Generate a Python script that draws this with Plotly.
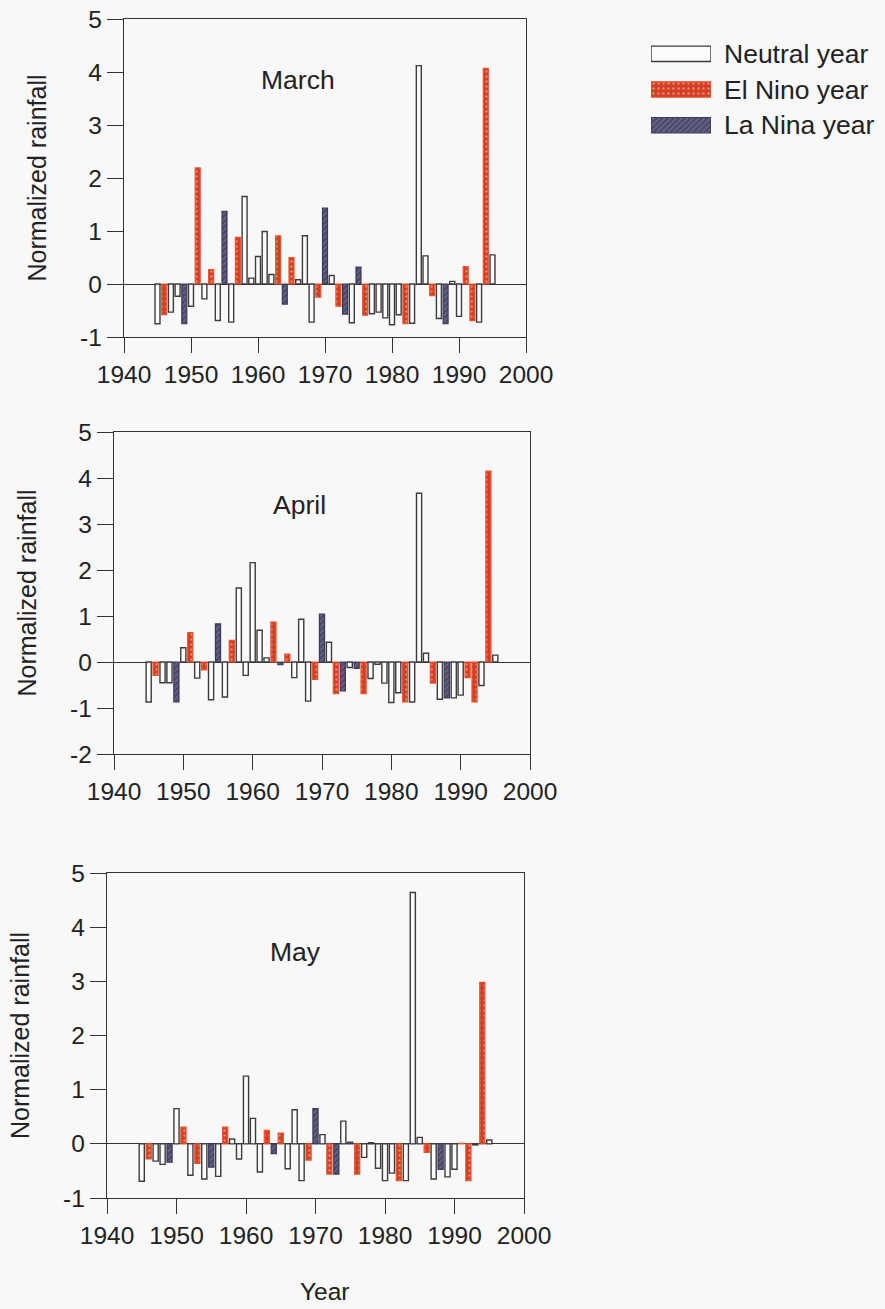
import plotly.graph_objects as go

years = list(range(1945, 1996))
category = ["N", "E", "N", "N", "L", "N", "E", "N", "E", "N",
            "L", "N", "E", "N", "N", "N", "N", "N", "E", "L",
            "E", "N", "N", "N", "E", "L", "N", "E", "L", "N",
            "L", "E", "N", "N", "N", "N", "N", "E", "N", "N",
            "N", "E", "N", "L", "N", "N", "E", "E", "N", "E", "N"]

march = [-0.75, -0.58, -0.53, -0.23, -0.75, -0.42, 2.19, -0.28, 0.27, -0.69,
         1.37, -0.72, 0.88, 1.65, 0.11, 0.52, 0.99, 0.18, 0.91, -0.38,
         0.50, 0.08, 0.91, -0.72, -0.25, 1.43, 0.16, -0.42, -0.57, -0.73,
         0.32, -0.59, -0.56, -0.53, -0.64, -0.77, -0.58, -0.75, -0.74, 4.12,
         0.53, -0.22, -0.65, -0.75, 0.05, -0.61, 0.33, -0.69, -0.72, 4.07, 0.55]

april = [-0.87, -0.29, -0.45, -0.45, -0.87, 0.31, 0.64, -0.35, -0.17, -0.82,
         0.83, -0.76, 0.47, 1.61, -0.29, 2.16, 0.69, 0.09, 0.87, -0.06,
         0.17, -0.34, 0.93, -0.85, -0.38, 1.04, 0.43, -0.69, -0.63, -0.12,
         -0.14, -0.69, -0.36, -0.05, -0.46, -0.88, -0.67, -0.87, -0.87, 3.67,
         0.19, -0.46, -0.81, -0.78, -0.78, -0.72, -0.34, -0.87, -0.51, 4.15, 0.15]

may = [-0.69, -0.28, -0.32, -0.38, -0.34, 0.65, 0.31, -0.58, -0.36, -0.65,
       -0.43, -0.60, 0.31, 0.09, -0.28, 1.25, 0.47, -0.52, 0.25, -0.18,
       0.20, -0.46, 0.63, -0.68, -0.30, 0.65, 0.17, -0.56, -0.56, 0.42,
       0.03, -0.56, -0.25, 0.02, -0.45, -0.68, -0.54, -0.68, -0.68, 4.64,
       0.12, -0.16, -0.65, -0.47, -0.61, -0.47, 0.01, -0.68, -0.02, 2.98, 0.07]

months = ["March", "April", "May"]
legend_labels = ["Neutral year", "El Nino year", "La Nina year"]
cat_codes = ["N", "E", "L"]
year_ticks = [1940, 1950, 1960, 1970, 1980, 1990, 2000]
y_ticks_3 = [-1, 0, 1, 2, 3, 4, 5]
y_ticks_4 = [-2, -1, 0, 1, 2, 3, 4, 5]

W, H = 885, 1309
FONT = "Liberation Sans, Arial, sans-serif"
AX = "#333333"

styles = {
    "N": dict(color="#fbfbfb", line=dict(color="#3c3c3c", width=1.4)),
    "E": dict(color="#d33f24", line=dict(color="#e8532c", width=1.2),
              pattern=dict(shape=".", fgcolor="rgba(255,235,225,0.85)", size=5,
                           solidity=0.18, fillmode="overlay")),
    "L": dict(color="#4b4a6c", line=dict(color="#3b3a58", width=1.2),
              pattern=dict(shape="/", fgcolor="rgba(200,200,225,0.7)", size=4,
                           solidity=0.25, fillmode="overlay")),
}

# panel geometry in pixels: (left, right, top, bottom, ymin, ymax)
panels = [
    (124, 526, 19, 337, -1, 5),
    (114, 530, 432, 754, -2, 5),
    (107, 524, 873, 1198, -1, 5),
]
yticks = [y_ticks_3, y_ticks_4, y_ticks_3]
label_pos = [(0.433, 0.808), (0.445, 0.773), (0.453, 0.757)]
series = [march, april, may]

fig = go.Figure()
layout = dict(width=W, height=H, margin=dict(l=0, r=0, t=0, b=0),
              paper_bgcolor="#f8f8f8", plot_bgcolor="#f8f8f8",
              barmode="overlay", showlegend=False,
              font=dict(family=FONT, size=24, color="#222222"),
              annotations=[])

for i, (vals, (l, r, t, b, ymin, ymax)) in enumerate(zip(series, panels)):
    k = "" if i == 0 else str(i + 1)
    for c in cat_codes:
        xs = [y for y, cc in zip(years, category) if cc == c]
        ys = [v for v, cc in zip(vals, category) if cc == c]
        fig.add_trace(go.Bar(x=xs, y=ys, width=0.74, marker=styles[c],
                             xaxis="x" + k, yaxis="y" + k,
                             name=legend_labels[cat_codes.index(c)]))
    layout["xaxis" + k] = dict(
        domain=[l / W, r / W], anchor="y" + k, range=[1940, 2000],
        tickvals=year_ticks, ticks="outside", ticklen=15, tickwidth=1.4,
        tickcolor=AX, showline=True, linecolor=AX, linewidth=1.4,
        mirror=True, showgrid=False, zeroline=False, automargin=False,
        tickfont=dict(size=24.5))
    layout["yaxis" + k] = dict(
        domain=[1 - b / H, 1 - t / H], anchor="x" + k, range=[ymin, ymax],
        tickvals=yticks[i], ticktext=[str(v) for v in yticks[i]],
        ticks="outside", ticklen=16, tickwidth=1.4, tickcolor=AX,
        showline=True, linecolor=AX, linewidth=1.4, mirror=True,
        showgrid=False, zeroline=True, zerolinecolor=AX, zerolinewidth=1.4,
        automargin=False, tickfont=dict(size=24.5),
        title=dict(text="Normalized rainfall", standoff=26,
                   font=dict(size=25)))
    lx, ly = label_pos[i]
    layout["annotations"].append(dict(
        text=months[i], xref="x" + k + " domain", yref="y" + k + " domain",
        x=lx, y=ly, showarrow=False, font=dict(size=26.5, color="#222222"),
        xanchor="center", yanchor="middle"))

layout["annotations"].append(dict(
    text="Year", xref="paper", yref="paper", x=325 / W, y=1 - 1291 / H,
    showarrow=False, font=dict(size=24.5, color="#222222"),
    xanchor="center", yanchor="middle"))

# legend drawn as a small horizontal bar chart
for c, lab in zip(cat_codes, legend_labels):
    fig.add_trace(go.Bar(y=[lab], x=[1], base=0, orientation="h", width=0.43,
                         marker=styles[c], xaxis="x4", yaxis="y4"))
layout["xaxis4"] = dict(domain=[651 / W, 711 / W], anchor="y4", range=[0, 1],
                        visible=False, fixedrange=True, automargin=False)
layout["yaxis4"] = dict(domain=[1 - 143 / H, 1 - 36 / H], anchor="x4",
                        range=[2.5, -0.5], side="right", ticks="",
                        showline=False, showgrid=False, zeroline=False,
                        categoryorder="array", categoryarray=legend_labels,
                        ticklabelstandoff=12, tickfont=dict(size=26.5),
                        fixedrange=True, automargin=False)

fig.update_layout(**layout)
fig.write_html("out.html")
